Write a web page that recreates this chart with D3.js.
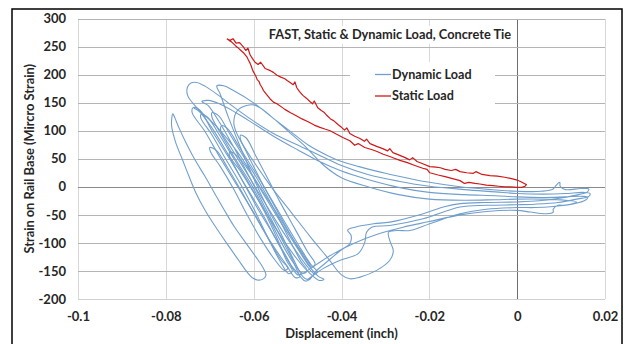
<!DOCTYPE html>
<html><head><meta charset="utf-8">
<script src="https://cdn.jsdelivr.net/npm/d3@7"></script>
<style>
body{margin:0;background:#fff}
svg{display:block}
text{font-family:Lato,"Open Sans",sans-serif;font-weight:700;fill:#262626}
</style>
</head><body>
<svg id="chart" width="626" height="344"></svg>
<script>
// ---------- data ----------
const chartTitle = "FAST, Static & Dynamic Load, Concrete Tie";
const xTitle = "Displacement (inch)";
const yTitle = "Strain on Rail Base (Mircro Strain)";
const xTicks = [-0.1, -0.08, -0.06, -0.04, -0.02, 0, 0.02];
const xTickLabels = ["-0.1", "-0.08", "-0.06", "-0.04", "-0.02", "0", "0.02"];
const yTicks = [-200, -150, -100, -50, 0, 50, 100, 150, 200, 250, 300];
const yTickLabels = ["-200", "-150", "-100", "-50", "0", "50", "100", "150", "200", "250", "300"];
const seriesNames = ["Dynamic Load", "Static Load"];

// Static load: [displacement, strain]
const staticLoad = [
[-0.0661,264],[-0.0654,261],[-0.0647,264],[-0.0640,256],[-0.0632,257],[-0.0624,250],[-0.0618,243],[-0.0613,247],[-0.0608,235],[-0.0603,229],[-0.0597,222],[-0.0590,218],[-0.0584,222],[-0.0574,211],[-0.0562,207],[-0.0555,204],[-0.0547,199],[-0.0537,195],[-0.0530,193],[-0.0523,189],[-0.0517,186],[-0.0510,182],[-0.0506,187],[-0.0502,177],[-0.0496,170],[-0.0488,163],[-0.0480,158],[-0.0472,152],[-0.0466,148],[-0.0462,153],[-0.0454,141],[-0.0446,136],[-0.0440,133],[-0.0433,127],[-0.0425,121],[-0.0418,118],[-0.0408,111],[-0.0400,106],[-0.0393,101],[-0.0388,105],[-0.0381,95],[-0.0370,90],[-0.0358,86],[-0.0348,81],[-0.0343,85],[-0.0335,77],[-0.0320,72],[-0.0306,68],[-0.0295,64],[-0.0290,68],[-0.0283,61],[-0.0270,57],[-0.0255,52],[-0.0245,48],[-0.0238,52],[-0.0228,45],[-0.0215,41],[-0.0199,36],[-0.0185,35],[-0.0175,34],[-0.0164,31],[-0.0150,29],[-0.0140,31],[-0.0130,27],[-0.0115,25],[-0.0100,24],[-0.0094,27],[-0.0080,22],[-0.0062,20],[-0.0045,19],[-0.0028,17],[-0.0015,15],[0.0000,12],[0.0006,10],[0.0011,8],[0.0016,6],[0.0021,4],
[0.0018,1],[0.0010,-1],[0.0000,-1],[-0.0015,0],[-0.0028,0],[-0.0042,1],[-0.0055,2],[-0.0070,3],[-0.0085,5],[-0.0096,6],[-0.0110,8],[-0.0120,6],[-0.0130,11],[-0.0145,14],[-0.0164,18],[-0.0180,21],[-0.0199,25],[-0.0205,31],[-0.0215,33],[-0.0233,38],[-0.0250,43],[-0.0267,47],[-0.0280,51],[-0.0290,54],[-0.0305,58],[-0.0319,63],[-0.0330,66],[-0.0347,70],[-0.0362,77],[-0.0370,74],[-0.0381,82],[-0.0397,88],[-0.0412,94],[-0.0426,100],[-0.0438,103],[-0.0449,106],[-0.0462,110],[-0.0476,116],[-0.0490,121],[-0.0504,127],[-0.0516,132],[-0.0529,138],[-0.0536,142],[-0.0547,148],[-0.0555,151],[-0.0563,157],[-0.0568,162],[-0.0574,168],[-0.0578,172],[-0.0581,177],[-0.0585,182],[-0.0588,188],[-0.0592,191],[-0.0595,197],[-0.0599,203],[-0.0602,207],[-0.0605,214],[-0.0608,220],[-0.0612,226],[-0.0615,231],[-0.0622,238],[-0.0629,243],[-0.0636,248],[-0.0642,252],[-0.0650,258],[-0.0656,261],[-0.0661,264]
];

// Dynamic load, consecutive large cycles: [displacement, strain]
const dynCycle1 = [
[-0.0470,-140],[-0.0505,-100],[-0.0545,-50],[-0.0590,5],[-0.0635,60],[-0.0685,108],[-0.0728,140],[-0.0750,162],[-0.0751,177],[-0.0743,185],[-0.0730,186],[-0.0710,179],[-0.0680,163],[-0.0645,142],[-0.0600,117],[-0.0555,95],[-0.0510,78],[-0.0460,60],[-0.0400,38],[-0.0340,22],[-0.0270,10],[-0.0200,1],[-0.0120,-5],[-0.0050,-9],[0.0000,-12],[0.0060,-13],[0.0110,-12],[0.0150,-10],[0.0166,-12],[0.0163,-17],
[0.0135,-22],[0.0093,-28],[0.0040,-31],[0.0000,-32],[-0.0070,-33],[-0.0130,-36],[-0.0214,-57],[-0.0290,-69],[-0.0331,-72],[-0.0343,-81],[-0.0347,-99],[-0.0362,-119],[-0.0403,-131],[-0.0440,-145],[-0.0465,-158],[-0.0478,-165],[-0.0488,-160],
[-0.0512,-125],[-0.0540,-80],[-0.0570,-35],[-0.0600,15],[-0.0630,70],[-0.0658,125],[-0.0676,165]
];
const dynCycle2 = [
[-0.0684,180],[-0.0668,180],[-0.0647,172],[-0.0601,150],[-0.0555,122],[-0.0515,98],[-0.0475,74],[-0.0430,55],[-0.0400,45],[-0.0360,36],[-0.0300,24],[-0.0240,14],[-0.0200,8],[-0.0130,0],[-0.0060,-5],[0.0000,-8],[0.0055,-8],[0.0082,-4],[0.0090,4],[0.0097,8],[0.0098,1],[0.0110,-5],[0.0145,-3],[0.0163,-4],[0.0160,-9],
[0.0140,-14],[0.0100,-20],[0.0050,-25],[0.0000,-27],[-0.0070,-28],[-0.0130,-30],[-0.0168,-36],[-0.0214,-48],[-0.0290,-63],[-0.0327,-66],[-0.0369,-72],[-0.0386,-77],[-0.0378,-87],[-0.0381,-101],[-0.0403,-114],[-0.0435,-135],[-0.0460,-152],[-0.0472,-165],[-0.0482,-168],[-0.0492,-162],
[-0.0515,-125],[-0.0545,-80],[-0.0575,-35],[-0.0610,18],[-0.0645,70],[-0.0678,115],[-0.0704,145]
];
const dynCycle3 = [
[-0.0718,152],[-0.0703,154],[-0.0678,148],[-0.0640,132],[-0.0595,110],[-0.0550,88],[-0.0500,66],[-0.0450,45],[-0.0400,28],[-0.0340,13],[-0.0270,-1],[-0.0200,-10],[-0.0120,-14],[-0.0050,-16],[0.0000,-18],[0.0060,-19],[0.0110,-18],[0.0150,-17],[0.0161,-19],[0.0155,-24],
[0.0130,-30],[0.0082,-35],[0.0040,-37],[0.0000,-37],[-0.0070,-40],[-0.0130,-48],[-0.0199,-66],[-0.0244,-78],[-0.0274,-78],[-0.0293,-81],[-0.0290,-96],[-0.0282,-114],[-0.0290,-131],[-0.0320,-149],[-0.0358,-161],[-0.0381,-164],[-0.0400,-157],
[-0.0430,-128],[-0.0470,-90],[-0.0515,-45],[-0.0560,0],[-0.0600,45],[-0.0632,85],[-0.0645,112],[-0.0637,136]
];
const dynCycle4 = [
[-0.0616,145],[-0.0600,146],[-0.0582,139],[-0.0555,122],[-0.0520,98],[-0.0480,70],[-0.0440,38],[-0.0400,16],[-0.0340,0],[-0.0270,-14],[-0.0200,-22],[-0.0120,-24],[-0.0050,-23],[0.0000,-22],[0.0060,-22],[0.0110,-24],[0.0135,-27],[0.0110,-33],[0.0093,-33],[0.0082,-40],[0.0082,-45],[0.0067,-48],[0.0030,-45],[0.0000,-42],
[-0.0070,-44],[-0.0130,-50],[-0.0200,-62],[-0.0260,-72],[-0.0320,-85],[-0.0370,-100],[-0.0420,-120],[-0.0460,-140],[-0.0490,-155],[-0.0500,-157],
[-0.0525,-125],[-0.0555,-85],[-0.0590,-40],[-0.0625,10],[-0.0660,60],[-0.0695,105],[-0.0725,135],[-0.0736,140]
];
// Dynamic load, small closed cycles inside the main bundle
const dynLoopA = [[-0.0738,141],[-0.0722,136],[-0.0695,100],[-0.0655,50],[-0.0617,0],[-0.0579,-50],[-0.0545,-100],[-0.0515,-140],[-0.0495,-160],[-0.0505,-162],[-0.0525,-140],[-0.0560,-100],[-0.0597,-50],[-0.0636,0],[-0.0675,50],[-0.0712,100],[-0.0740,132]];
const dynLoopB = [[-0.0673,109],[-0.0660,104],[-0.0632,70],[-0.0600,30],[-0.0565,-15],[-0.0530,-62],[-0.0497,-105],[-0.0470,-138],[-0.0455,-152],[-0.0462,-155],[-0.0480,-140],[-0.0512,-105],[-0.0548,-62],[-0.0585,-15],[-0.0620,30],[-0.0652,70],[-0.0675,100]];
const dynLoopC = [[-0.0720,129],[-0.0705,124],[-0.0680,95],[-0.0645,50],[-0.0610,5],[-0.0575,-45],[-0.0545,-95],[-0.0525,-132],[-0.0512,-150],[-0.0520,-155],[-0.0538,-135],[-0.0565,-95],[-0.0596,-45],[-0.0630,5],[-0.0664,50],[-0.0697,95],[-0.0720,122]];
const dynLoopD = [[-0.0654,62],[-0.0640,57],[-0.0612,30],[-0.0580,-10],[-0.0545,-55],[-0.0508,-100],[-0.0475,-140],[-0.0452,-160],[-0.0440,-165],[-0.0450,-167],[-0.0475,-152],[-0.0500,-130],[-0.0528,-100],[-0.0565,-55],[-0.0600,-10],[-0.0632,30],[-0.0655,55]];
const dynLoopE = [[-0.0695,132],[-0.0680,127],[-0.0655,95],[-0.0620,50],[-0.0585,5],[-0.0550,-45],[-0.0518,-95],[-0.0493,-132],[-0.0478,-150],[-0.0488,-154],[-0.0510,-135],[-0.0540,-95],[-0.0572,-45],[-0.0606,5],[-0.0642,50],[-0.0675,95],[-0.0695,124]];
const dynLoopF = [[-0.0630,92],[-0.0617,87],[-0.0595,55],[-0.0568,15],[-0.0538,-30],[-0.0506,-75],[-0.0478,-115],[-0.0460,-138],[-0.0468,-143],[-0.0490,-120],[-0.0520,-80],[-0.0552,-35],[-0.0583,10],[-0.0612,55],[-0.0630,85]];
const dynLoopG = [[-0.0700,70],[-0.0685,65],[-0.0660,35],[-0.0630,-5],[-0.0598,-50],[-0.0565,-95],[-0.0538,-130],[-0.0522,-145],[-0.0530,-149],[-0.0552,-130],[-0.0582,-95],[-0.0615,-50],[-0.0645,-5],[-0.0675,35],[-0.0698,62]];
const dynLoopLeft = [[-0.0784,130],[-0.0787,110],[-0.0778,80],[-0.0763,50],[-0.0748,20],[-0.0732,-10],[-0.0712,-40],[-0.0688,-70],[-0.0662,-100],[-0.0635,-130],[-0.0617,-150],[-0.0603,-162],[-0.0592,-166],[-0.0580,-165],[-0.0572,-158],[-0.0578,-145],[-0.0595,-125],[-0.0618,-100],[-0.0645,-70],[-0.0668,-40],[-0.0690,-10],[-0.0712,20],[-0.0735,50],[-0.0755,80],[-0.0770,105],[-0.0779,122]];

// ---------- layout ----------
const svg = d3.select("#chart");
const M = {left: 78, right: 605, top: 18.5, bottom: 299};
const x = d3.scaleLinear().domain([-0.1, 0.02]).range([M.left, M.right]);
const y = d3.scaleLinear().domain([-200, 300]).range([M.bottom, M.top]);
const FONT = "Lato, 'Open Sans', sans-serif";

// outer frame
svg.append("rect").attr("x", 12).attr("y", 9).attr("width", 610).attr("height", 345)
  .attr("fill", "#fff").attr("stroke", "#000").attr("stroke-width", 1.5);

// grid lines
const grid = svg.append("g").attr("shape-rendering", "crispEdges");
grid.selectAll("line.v").data(xTicks).join("line")
  .attr("x1", d => Math.round(x(d)) + 0.5).attr("x2", d => Math.round(x(d)) + 0.5)
  .attr("y1", M.top).attr("y2", M.bottom)
  .attr("stroke", d => d === 0 ? "#6e6e6e" : "#d9d9d9").attr("stroke-width", 1);
grid.selectAll("line.h").data(yTicks).join("line")
  .attr("x1", M.left).attr("x2", M.right)
  .attr("y1", d => Math.round(y(d)) + 0.5).attr("y2", d => Math.round(y(d)) + 0.5)
  .attr("stroke", d => d === 0 ? "#8a8a8a" : (d === -200 ? "#d0d0d0" : "#b4b4b4")).attr("stroke-width", 1);

// axes (labels only)
const xAxis = d3.axisBottom(x).tickValues(xTicks).tickSize(0).tickPadding(0)
  .tickFormat((d, i) => xTickLabels[i]);
const gx = svg.append("g").attr("transform", `translate(0,${M.bottom})`).call(xAxis);
gx.select(".domain").remove();
gx.selectAll("text").attr("dy", null).attr("y", 21.5).attr("font-size", 13)
  .style("font-family", FONT).style("font-weight", 700).attr("fill", "#262626");

const yAxis = d3.axisLeft(y).tickValues(yTicks).tickSize(0).tickPadding(0)
  .tickFormat((d, i) => yTickLabels[i]);
const gy = svg.append("g").attr("transform", `translate(${M.left - 12},0)`).call(yAxis);
gy.select(".domain").remove();
gy.selectAll("text").attr("font-size", 13)
  .style("font-family", FONT).style("font-weight", 700).attr("fill", "#262626");

// series
const openLine = d3.line().x(d => x(d[0])).y(d => y(d[1])).curve(d3.curveCatmullRom.alpha(0.5));
const closedLine = d3.line().x(d => x(d[0])).y(d => y(d[1])).curve(d3.curveCatmullRomClosed.alpha(0.5));
const blue = "#719fcd", red = "#d01818";
const dynamicChain = [].concat(dynCycle1, dynCycle2, dynCycle3, dynCycle4);
const dynamicLoops = [dynLoopLeft, dynLoopA, dynLoopB, dynLoopC, dynLoopD, dynLoopE, dynLoopF, dynLoopG];
const dyn = svg.append("g").attr("fill", "none").attr("stroke", blue).attr("stroke-width", 1.1);
dyn.selectAll("path.loop").data(dynamicLoops).join("path").attr("class", "loop").attr("d", closedLine);
dyn.append("path").datum(dynamicChain).attr("d", openLine);

const staticLine = d3.line().x(d => x(d[0])).y(d => y(d[1]));
svg.append("path").datum(staticLoad).attr("d", staticLine)
  .attr("fill", "none").attr("stroke", red).attr("stroke-width", 1.2).attr("stroke-linejoin", "round");

// title with white background
svg.append("rect").attr("x", 265).attr("y", 26).attr("width", 249).attr("height", 18).attr("fill", "#fff");
svg.append("text").attr("x", 390).attr("y", 38.5).attr("text-anchor", "middle")
  .attr("font-size", 12.8).text(chartTitle);

// legend
const lg = svg.append("g");
lg.append("rect").attr("x", 350).attr("y", 62).attr("width", 145).attr("height", 46).attr("fill", "#fff");
const legendColors = [blue, red];
const legendY = [74.5, 96];
seriesNames.forEach((n, i) => {
  lg.append("line").attr("x1", 375).attr("x2", 391).attr("y1", legendY[i]).attr("y2", legendY[i])
    .attr("stroke", legendColors[i]).attr("stroke-width", 1.3);
  lg.append("text").attr("x", 392).attr("y", legendY[i]).attr("dy", "0.35em")
    .attr("font-size", 12.6).text(n);
});

// axis titles
svg.append("text").attr("x", (M.left + M.right) / 2).attr("y", 338).attr("text-anchor", "middle")
  .attr("font-size", 12.9).text(xTitle);
svg.append("text").attr("transform", `translate(34,${(M.top + M.bottom) / 2}) rotate(-90)`)
  .attr("text-anchor", "middle").attr("font-size", 12.8).text(yTitle);
</script>
</body></html>
